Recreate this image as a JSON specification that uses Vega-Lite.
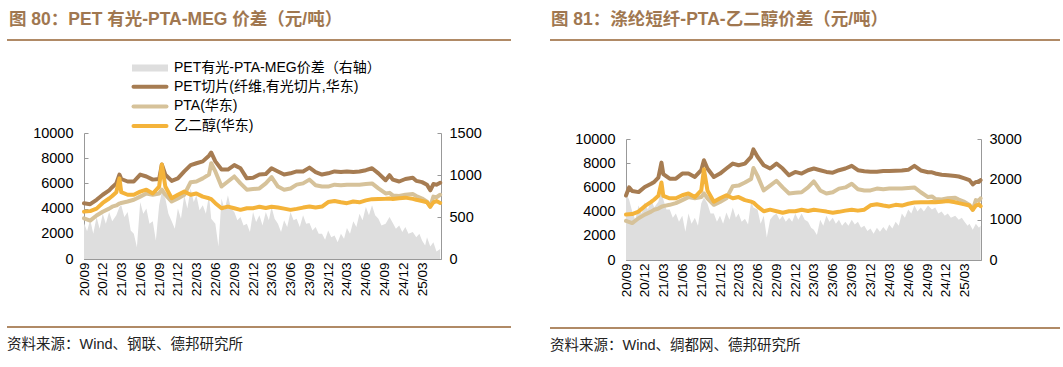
{
"$schema": "https://vega.github.io/schema/vega-lite/v6.json",
"background": "white",
"padding": {"left": 6, "top": 10, "right": 5, "bottom": 5},
"config": {"font": "Liberation Sans, Noto Sans CJK SC", "view": {"stroke": null}},
"spacing": 37,
"datasets": {
"L": [
{"d":"2020-09-01","main":4430,"pta":3230,"meg":3760,"sp":430},
{"d":"2020-09-16","sp":330},
{"d":"2020-10-01","main":4350,"pta":3050,"meg":3800,"sp":470},
{"d":"2020-10-16","sp":300},
{"d":"2020-11-01","main":4700,"pta":3450,"meg":4000,"sp":500},
{"d":"2020-11-16","sp":360},
{"d":"2020-12-01","main":5100,"pta":3750,"meg":4450,"sp":540},
{"d":"2020-12-16","sp":420},
{"d":"2021-01-01","main":5450,"pta":4000,"meg":4800,"sp":560},
{"d":"2021-01-16","main":5700,"pta":4150,"meg":5000,"sp":450},
{"d":"2021-02-05","main":6000,"pta":4250,"meg":5300,"sp":520},
{"d":"2021-02-20","main":6700,"pta":4400,"meg":6400,"sp":620},
{"d":"2021-03-01","main":6350,"pta":4450,"meg":5300,"sp":640},
{"d":"2021-03-16","sp":500},
{"d":"2021-04-01","main":6150,"pta":4560,"meg":5100,"sp":560},
{"d":"2021-04-16","sp":340},
{"d":"2021-05-01","main":6150,"pta":4700,"meg":5100,"sp":300},
{"d":"2021-05-16","sp":140},
{"d":"2021-06-01","main":6700,"pta":4950,"meg":5350,"sp":680},
{"d":"2021-06-16","sp":540},
{"d":"2021-07-01","main":6550,"pta":5200,"meg":5500,"sp":600},
{"d":"2021-07-16","sp":420},
{"d":"2021-08-01","main":6300,"pta":5100,"meg":5200,"sp":450},
{"d":"2021-08-16","sp":220},
{"d":"2021-09-01","main":6350,"pta":5200,"meg":5750,"sp":640},
{"d":"2021-09-14","main":7500,"pta":5500,"meg":7500,"sp":800},
{"d":"2021-10-01","main":6700,"pta":5100,"meg":5750,"sp":720},
{"d":"2021-10-16","sp":540},
{"d":"2021-11-01","main":6200,"pta":4560,"meg":4820,"sp":450},
{"d":"2021-11-16","sp":360},
{"d":"2021-12-01","main":6400,"pta":4800,"meg":5100,"sp":600},
{"d":"2021-12-16","sp":480},
{"d":"2022-01-01","main":6950,"pta":5100,"meg":5350,"sp":760},
{"d":"2022-01-16","sp":600},
{"d":"2022-02-01","main":7450,"pta":6100,"meg":5100,"sp":840},
{"d":"2022-02-16","sp":680},
{"d":"2022-03-01","main":7600,"pta":6150,"meg":5200,"sp":760},
{"d":"2022-03-16","sp":580},
{"d":"2022-04-01","main":7750,"pta":6400,"meg":4950,"sp":640},
{"d":"2022-04-16","sp":540},
{"d":"2022-05-01","main":8200,"pta":6700,"meg":4820,"sp":760},
{"d":"2022-05-12","main":8450,"pta":7600,"meg":4750,"sp":480},
{"d":"2022-06-01","main":7750,"pta":6950,"meg":4430,"sp":420},
{"d":"2022-06-16","sp":150},
{"d":"2022-07-01","main":7100,"pta":5750,"meg":4030,"sp":720},
{"d":"2022-07-16","sp":580},
{"d":"2022-08-01","main":7100,"pta":6150,"meg":4160,"sp":760},
{"d":"2022-08-16","sp":600},
{"d":"2022-09-01","main":7450,"pta":6550,"meg":4030,"sp":560},
{"d":"2022-09-16","sp":460},
{"d":"2022-10-01","main":7200,"pta":6000,"meg":3900,"sp":500},
{"d":"2022-10-16","sp":400},
{"d":"2022-11-01","main":6400,"pta":5500,"meg":4030,"sp":420},
{"d":"2022-11-16","sp":320},
{"d":"2022-12-01","main":6450,"pta":5550,"meg":4030,"sp":560},
{"d":"2022-12-16","sp":440},
{"d":"2023-01-01","main":6700,"pta":5600,"meg":4150,"sp":520},
{"d":"2023-01-16","sp":400},
{"d":"2023-02-01","main":6750,"pta":6000,"meg":4050,"sp":560},
{"d":"2023-02-16","sp":460},
{"d":"2023-03-01","main":7200,"pta":6500,"meg":4150,"sp":620},
{"d":"2023-03-16","sp":480},
{"d":"2023-04-01","main":6950,"pta":5750,"meg":4080,"sp":420},
{"d":"2023-04-16","sp":320},
{"d":"2023-05-01","main":6700,"pta":5500,"meg":4000,"sp":460},
{"d":"2023-05-16","sp":380},
{"d":"2023-06-01","main":6800,"pta":5600,"meg":3900,"sp":560},
{"d":"2023-06-16","sp":460},
{"d":"2023-07-01","main":6950,"pta":5900,"meg":3980,"sp":480},
{"d":"2023-07-16","sp":380},
{"d":"2023-08-01","main":6950,"pta":6000,"meg":4080,"sp":520},
{"d":"2023-08-16","sp":420},
{"d":"2023-09-01","main":7250,"pta":6300,"meg":4160,"sp":430},
{"d":"2023-09-16","sp":340},
{"d":"2023-10-01","main":6900,"pta":5850,"meg":4080,"sp":380},
{"d":"2023-10-16","sp":300},
{"d":"2023-11-01","main":6700,"pta":5750,"meg":4160,"sp":300},
{"d":"2023-11-16","sp":230},
{"d":"2023-12-01","main":6800,"pta":5750,"meg":4520,"sp":340},
{"d":"2023-12-16","sp":260},
{"d":"2024-01-01","main":6950,"pta":5900,"meg":4600,"sp":280},
{"d":"2024-01-16","sp":200},
{"d":"2024-02-01","main":6900,"pta":5850,"meg":4500,"sp":300},
{"d":"2024-02-16","sp":240},
{"d":"2024-03-01","main":6950,"pta":5900,"meg":4430,"sp":370},
{"d":"2024-03-16","sp":300},
{"d":"2024-04-01","main":6900,"pta":5900,"meg":4560,"sp":450},
{"d":"2024-04-16","sp":380},
{"d":"2024-05-01","main":6950,"pta":5900,"meg":4500,"sp":540},
{"d":"2024-05-16","sp":460},
{"d":"2024-06-01","main":7050,"pta":5950,"meg":4650,"sp":620},
{"d":"2024-06-16","sp":520},
{"d":"2024-07-01","main":7200,"pta":6000,"meg":4750,"sp":640},
{"d":"2024-07-16","sp":520},
{"d":"2024-08-01","main":6800,"pta":5600,"meg":4770,"sp":480},
{"d":"2024-08-16","sp":400},
{"d":"2024-09-05","main":6250,"pta":5200,"meg":4780,"sp":420},
{"d":"2024-09-24","main":6650,"pta":5250,"meg":4800,"sp":500},
{"d":"2024-10-10","main":6300,"pta":5050,"meg":4770,"sp":430},
{"d":"2024-10-25","sp":360},
{"d":"2024-11-10","main":6150,"pta":5000,"meg":4820,"sp":400},
{"d":"2024-11-25","sp":320},
{"d":"2024-12-10","main":6350,"pta":5100,"meg":4870,"sp":380},
{"d":"2024-12-25","sp":300},
{"d":"2025-01-15","main":6450,"pta":5150,"meg":4770,"sp":320},
{"d":"2025-02-01","main":6200,"pta":5000,"meg":4700,"sp":260},
{"d":"2025-02-16","sp":300},
{"d":"2025-03-01","main":6100,"pta":4800,"meg":4600,"sp":220},
{"d":"2025-03-16","sp":160},
{"d":"2025-03-25","main":5900,"pta":4550,"meg":4500,"sp":260},
{"d":"2025-04-10","main":5450,"pta":4150,"meg":4150,"sp":150},
{"d":"2025-04-25","main":5950,"pta":4950,"meg":4500,"sp":200},
{"d":"2025-05-10","main":5900,"pta":4900,"meg":4600,"sp":90},
{"d":"2025-05-28","main":6050,"pta":5100,"meg":4450,"sp":120}
],
"R": [
{"d":"2020-09-01","main":5330,"pta":3230,"meg":3760,"sp":1650},
{"d":"2020-09-16","main":6000,"sp":1500},
{"d":"2020-10-01","main":5700,"pta":3050,"meg":3800,"sp":1200},
{"d":"2020-10-16","sp":1000},
{"d":"2020-11-01","main":5610,"pta":3450,"meg":4000,"sp":1350},
{"d":"2020-11-16","sp":1150},
{"d":"2020-12-01","main":6030,"pta":3750,"meg":4450,"sp":1430},
{"d":"2020-12-16","sp":1250},
{"d":"2021-01-01","main":6300,"pta":4000,"meg":4800,"sp":1500},
{"d":"2021-01-16","main":6450,"pta":4150,"meg":5000,"sp":1300},
{"d":"2021-02-05","main":6800,"pta":4250,"meg":5300,"sp":1450},
{"d":"2021-02-20","main":8050,"pta":4400,"meg":6400,"sp":1770},
{"d":"2021-03-01","main":7100,"pta":4450,"meg":5300,"sp":1500},
{"d":"2021-03-16","sp":1250},
{"d":"2021-04-01","main":6720,"pta":4560,"meg":5100,"sp":1250},
{"d":"2021-04-16","sp":1050},
{"d":"2021-05-01","main":6720,"pta":4700,"meg":5100,"sp":1150},
{"d":"2021-05-16","sp":950},
{"d":"2021-06-01","main":7140,"pta":4950,"meg":5350,"sp":1100},
{"d":"2021-06-16","sp":700},
{"d":"2021-07-01","main":7140,"pta":5200,"meg":5500,"sp":1150},
{"d":"2021-07-16","sp":900},
{"d":"2021-08-01","main":6860,"pta":5100,"meg":5200,"sp":1050},
{"d":"2021-08-16","sp":850},
{"d":"2021-09-01","main":7420,"pta":5200,"meg":5750,"sp":1400},
{"d":"2021-09-14","main":8250,"pta":5500,"meg":7500,"sp":1550},
{"d":"2021-10-01","main":7560,"pta":5100,"meg":5750,"sp":1400},
{"d":"2021-10-16","sp":1150},
{"d":"2021-11-01","main":6860,"pta":4560,"meg":4820,"sp":1150},
{"d":"2021-11-16","sp":950},
{"d":"2021-12-01","main":7140,"pta":4800,"meg":5100,"sp":1100},
{"d":"2021-12-16","sp":900},
{"d":"2022-01-01","main":7560,"pta":5100,"meg":5350,"sp":1180},
{"d":"2022-01-16","sp":1000},
{"d":"2022-02-01","main":7970,"pta":6100,"meg":5100,"sp":1300},
{"d":"2022-02-16","sp":1050},
{"d":"2022-03-01","main":7830,"pta":6150,"meg":5200,"sp":1150},
{"d":"2022-03-16","sp":950},
{"d":"2022-04-01","main":7970,"pta":6400,"meg":4950,"sp":1020},
{"d":"2022-04-16","sp":880},
{"d":"2022-05-01","main":8530,"pta":6700,"meg":4820,"sp":1450},
{"d":"2022-05-12","main":9140,"pta":7600,"meg":4750,"sp":1300},
{"d":"2022-06-01","main":8530,"pta":6950,"meg":4430,"sp":1250},
{"d":"2022-06-16","sp":900},
{"d":"2022-07-01","main":7830,"pta":5750,"meg":4030,"sp":1100},
{"d":"2022-07-16","sp":560},
{"d":"2022-08-01","main":7560,"pta":6150,"meg":4160,"sp":1000},
{"d":"2022-08-16","sp":1100},
{"d":"2022-09-01","main":7970,"pta":6550,"meg":4030,"sp":1150},
{"d":"2022-09-16","sp":1000},
{"d":"2022-10-01","main":7560,"pta":6000,"meg":3900,"sp":1100},
{"d":"2022-10-16","sp":950},
{"d":"2022-11-01","main":7000,"pta":5500,"meg":4030,"sp":1050},
{"d":"2022-11-16","sp":950},
{"d":"2022-12-01","main":7280,"pta":5550,"meg":4030,"sp":1150},
{"d":"2022-12-16","sp":1000},
{"d":"2023-01-01","main":7140,"pta":5600,"meg":4150,"sp":1150},
{"d":"2023-01-16","sp":1000},
{"d":"2023-02-01","main":7420,"pta":6000,"meg":4050,"sp":950},
{"d":"2023-02-16","sp":800},
{"d":"2023-03-01","main":7560,"pta":6500,"meg":4150,"sp":750},
{"d":"2023-03-16","sp":620},
{"d":"2023-04-01","main":7420,"pta":5750,"meg":4080,"sp":1000},
{"d":"2023-04-16","sp":850},
{"d":"2023-05-01","main":7280,"pta":5500,"meg":4000,"sp":1100},
{"d":"2023-05-16","sp":950},
{"d":"2023-06-01","main":7220,"pta":5600,"meg":3900,"sp":1050},
{"d":"2023-06-16","sp":900},
{"d":"2023-07-01","main":7420,"pta":5900,"meg":3980,"sp":1000},
{"d":"2023-07-16","sp":850},
{"d":"2023-08-01","main":7560,"pta":6000,"meg":4080,"sp":950},
{"d":"2023-08-16","sp":850},
{"d":"2023-09-01","main":7780,"pta":6300,"meg":4160,"sp":1000},
{"d":"2023-09-16","sp":880},
{"d":"2023-10-01","main":7420,"pta":5850,"meg":4080,"sp":950},
{"d":"2023-10-16","sp":800},
{"d":"2023-11-01","main":7330,"pta":5750,"meg":4160,"sp":850},
{"d":"2023-11-16","sp":720},
{"d":"2023-12-01","main":7300,"pta":5750,"meg":4520,"sp":780},
{"d":"2023-12-16","sp":650},
{"d":"2024-01-01","main":7300,"pta":5900,"meg":4600,"sp":800},
{"d":"2024-01-16","sp":700},
{"d":"2024-02-01","main":7350,"pta":5850,"meg":4500,"sp":820},
{"d":"2024-02-16","sp":720},
{"d":"2024-03-01","main":7350,"pta":5900,"meg":4430,"sp":880},
{"d":"2024-03-16","sp":780},
{"d":"2024-04-01","main":7380,"pta":5900,"meg":4560,"sp":950},
{"d":"2024-04-16","sp":850},
{"d":"2024-05-01","main":7400,"pta":5900,"meg":4500,"sp":1150},
{"d":"2024-05-16","sp":1050},
{"d":"2024-06-01","main":7450,"pta":5950,"meg":4650,"sp":1250},
{"d":"2024-06-16","sp":1150},
{"d":"2024-07-01","main":7780,"pta":6000,"meg":4750,"sp":1350},
{"d":"2024-07-16","sp":1200},
{"d":"2024-08-01","main":7400,"pta":5600,"meg":4770,"sp":1300},
{"d":"2024-08-16","sp":1200},
{"d":"2024-09-05","main":7250,"pta":5200,"meg":4780,"sp":1350},
{"d":"2024-09-24","main":7250,"pta":5250,"meg":4800,"sp":1250},
{"d":"2024-10-10","main":7150,"pta":5050,"meg":4770,"sp":1300},
{"d":"2024-10-25","sp":1150},
{"d":"2024-11-10","main":7050,"pta":5000,"meg":4820,"sp":1200},
{"d":"2024-11-25","sp":1100},
{"d":"2024-12-10","main":7000,"pta":5100,"meg":4870,"sp":1150},
{"d":"2024-12-25","sp":1050},
{"d":"2025-01-15","main":6950,"pta":5150,"meg":4770,"sp":1100},
{"d":"2025-02-01","main":6900,"pta":5000,"meg":4700,"sp":1000},
{"d":"2025-02-16","sp":1050},
{"d":"2025-03-01","main":6750,"pta":4800,"meg":4600,"sp":950},
{"d":"2025-03-16","sp":850},
{"d":"2025-03-25","main":6600,"pta":4550,"meg":4500,"sp":900},
{"d":"2025-04-10","main":6250,"pta":4150,"meg":4150,"sp":750},
{"d":"2025-04-25","main":6450,"pta":4950,"meg":4500,"sp":900},
{"d":"2025-05-10","main":6450,"pta":4900,"meg":4600,"sp":800},
{"d":"2025-05-18","main":6600,"pta":5100,"meg":4450,"sp":850}
]
},
"hconcat": [
{
"columns": 1, "spacing": 21,
"concat": [
{
"data": {"values": [{"k": 0}]},
"width": 427, "height": 64,
"title": {"text": "图 80：PET 有光-PTA-MEG 价差（元/吨）", "anchor": "start", "frame": "group", "dx": -75, "fontSize": 17.5, "fontWeight": "bold", "color": "#A07750", "offset": 11},
"mark": {"type": "rule", "color": "#B08A66", "strokeWidth": 2},
"encoding": {
"x": {"datum": 0, "type": "quantitative", "scale": {"domain": [0, 1], "range": [-77, 427]}, "axis": null},
"x2": {"datum": 1},
"y": {"datum": 1, "type": "quantitative", "scale": {"domain": [0, 1]}, "axis": null}}
},
{
"data": {"name": "L"},
"width": 357, "height": 126,
"layer": [
{
"mark": {"type": "area", "opacity": 1},
"encoding": {
"x": {"field": "d", "type": "temporal", "scale": {"type": "utc", "domain": [{"year": 2020, "month": 9, "date": 1, "utc": true}, {"year": 2025, "month": 6, "date": 1, "utc": true}]},
"axis": {"title": null, "grid": false, "format": "%y/%m", "labelAngle": -90, "labelFontSize": 13.5, "labelColor": "#000", "tickSize": -4, "labelPadding": 7, "domainColor": "#999", "tickColor": "#999", "labelOverlap": false, "labelBound": false, "labelFlush": false,
"values": [{"year":2020,"month":9,"date":1,"utc":true},{"year":2020,"month":12,"date":1,"utc":true},{"year":2021,"month":3,"date":1,"utc":true},{"year":2021,"month":6,"date":1,"utc":true},{"year":2021,"month":9,"date":1,"utc":true},{"year":2021,"month":12,"date":1,"utc":true},{"year":2022,"month":3,"date":1,"utc":true},{"year":2022,"month":6,"date":1,"utc":true},{"year":2022,"month":9,"date":1,"utc":true},{"year":2022,"month":12,"date":1,"utc":true},{"year":2023,"month":3,"date":1,"utc":true},{"year":2023,"month":6,"date":1,"utc":true},{"year":2023,"month":9,"date":1,"utc":true},{"year":2023,"month":12,"date":1,"utc":true},{"year":2024,"month":3,"date":1,"utc":true},{"year":2024,"month":6,"date":1,"utc":true},{"year":2024,"month":9,"date":1,"utc":true},{"year":2024,"month":12,"date":1,"utc":true},{"year":2025,"month":3,"date":1,"utc":true}]}},
"y": {"field": "sp", "type": "quantitative", "scale": {"domain": [0, 1500], "nice": false},
"axis": {"orient": "right", "title": null, "grid": false, "values": [0, 500, 1000, 1500], "format": "d", "labelFontSize": 14.5, "labelColor": "#000", "tickSize": -4, "labelPadding": 12, "domainColor": "#999", "tickColor": "#999"}},
"color": {"datum": "sp", "type": "nominal",
"scale": {"domain": ["sp", "main", "pta", "meg"], "range": ["#DEDEDE", "#A67C52", "#D6C29A", "#F4B33A"]},
"legend": {"orient": "none", "legendX": 59, "legendY": 21, "title": null, "padding": 0, "symbolSize": 100, "labelFontSize": 14, "labelColor": "#000", "rowPadding": 3.7, "labelOffset": 17, "labelLimit": 0,
"labelExpr": "{'sp':'PET有光-PTA-MEG价差（右轴）','main':'PET切片(纤维,有光切片,华东)','pta':'PTA(华东)','meg':'乙二醇(华东)'}[datum.value]",
"encode": {"symbols": {"update": {
"shape": {"signal": "datum.value === 'sp' ? 'M-3.6,-0.7H3.6V0.7H-3.6Z' : 'M-3.3,0H3.3'"},
"fill": {"signal": "datum.value === 'sp' ? '#DEDEDE' : 'transparent'"},
"stroke": {"signal": "datum.value === 'sp' ? 'transparent' : (datum.value === 'main' ? '#A67C52' : (datum.value === 'pta' ? '#D6C29A' : '#F4B33A'))"},
"strokeWidth": {"signal": "datum.value === 'sp' ? 0 : 4"},
"strokeCap": {"value": "round"},
"opacity": {"value": 1}}}}}}
}
},
{
"transform": [{"fold": ["main", "pta", "meg"], "as": ["key", "val"]}, {"filter": "isValid(datum.val)"}],
"mark": {"type": "line", "strokeWidth": 4, "strokeJoin": "round", "strokeCap": "round"},
"encoding": {
"x": {"field": "d", "type": "temporal", "scale": {"type": "utc", "domain": [{"year": 2020, "month": 9, "date": 1, "utc": true}, {"year": 2025, "month": 6, "date": 1, "utc": true}]},
"axis": {"title": null, "grid": false, "format": "%y/%m", "labelAngle": -90, "labelFontSize": 13.5, "labelColor": "#000", "tickSize": -4, "labelPadding": 7, "domainColor": "#999", "tickColor": "#999", "labelOverlap": false, "labelBound": false, "labelFlush": false,
"values": [{"year":2020,"month":9,"date":1,"utc":true},{"year":2020,"month":12,"date":1,"utc":true},{"year":2021,"month":3,"date":1,"utc":true},{"year":2021,"month":6,"date":1,"utc":true},{"year":2021,"month":9,"date":1,"utc":true},{"year":2021,"month":12,"date":1,"utc":true},{"year":2022,"month":3,"date":1,"utc":true},{"year":2022,"month":6,"date":1,"utc":true},{"year":2022,"month":9,"date":1,"utc":true},{"year":2022,"month":12,"date":1,"utc":true},{"year":2023,"month":3,"date":1,"utc":true},{"year":2023,"month":6,"date":1,"utc":true},{"year":2023,"month":9,"date":1,"utc":true},{"year":2023,"month":12,"date":1,"utc":true},{"year":2024,"month":3,"date":1,"utc":true},{"year":2024,"month":6,"date":1,"utc":true},{"year":2024,"month":9,"date":1,"utc":true},{"year":2024,"month":12,"date":1,"utc":true},{"year":2025,"month":3,"date":1,"utc":true}]}},
"y": {"field": "val", "type": "quantitative", "scale": {"domain": [0, 10000], "nice": false},
"axis": {"orient": "left", "title": null, "grid": false, "values": [0, 2000, 4000, 6000, 8000, 10000], "format": "d", "labelFontSize": 14.5, "labelColor": "#000", "tickSize": -4, "labelPadding": 15, "domainColor": "#999", "tickColor": "#999", "minExtent": 77}},
"color": {"field": "key", "type": "nominal", "scale": {"domain": ["sp", "main", "pta", "meg"], "range": ["#DEDEDE", "#A67C52", "#D6C29A", "#F4B33A"]},
"legend": {"orient": "none", "legendX": 59, "legendY": 21, "title": null, "padding": 0, "symbolSize": 100, "labelFontSize": 14, "labelColor": "#000", "rowPadding": 3.7, "labelOffset": 17, "labelLimit": 0,
"labelExpr": "{'sp':'PET有光-PTA-MEG价差（右轴）','main':'PET切片(纤维,有光切片,华东)','pta':'PTA(华东)','meg':'乙二醇(华东)'}[datum.value]",
"encode": {"symbols": {"update": {
"shape": {"signal": "datum.value === 'sp' ? 'M-3.6,-0.7H3.6V0.7H-3.6Z' : 'M-3.3,0H3.3'"},
"fill": {"signal": "datum.value === 'sp' ? '#DEDEDE' : 'transparent'"},
"stroke": {"signal": "datum.value === 'sp' ? 'transparent' : (datum.value === 'main' ? '#A67C52' : (datum.value === 'pta' ? '#D6C29A' : '#F4B33A'))"},
"strokeWidth": {"signal": "datum.value === 'sp' ? 0 : 4"},
"strokeCap": {"value": "round"},
"opacity": {"value": 1}}}}}}
}
}
],
"resolve": {"scale": {"y": "independent"}}
},
{
"data": {"values": [{"k": 0}]},
"width": 427, "height": 10,
"title": {"text": "资料来源：Wind、钢联、德邦研究所", "orient": "bottom", "anchor": "start", "frame": "group", "dx": -77, "fontSize": 14.5, "fontWeight": "normal", "color": "#222", "offset": 10},
"mark": {"type": "rule", "color": "#B08A66", "strokeWidth": 2},
"encoding": {
"x": {"datum": 0, "type": "quantitative", "scale": {"domain": [0, 1], "range": [-77, 427]}, "axis": null},
"x2": {"datum": 1},
"y": {"datum": 0, "type": "quantitative", "scale": {"domain": [0, 1]}, "axis": null}}
}
]
},
{
"columns": 1, "spacing": 21,
"concat": [
{
"data": {"values": [{"k": 0}]},
"width": 434, "height": 70,
"title": {"text": "图 81：涤纶短纤-PTA-乙二醇价差（元/吨）", "anchor": "start", "frame": "group", "dx": -75, "fontSize": 17.5, "fontWeight": "bold", "color": "#A07750", "offset": 11},
"mark": {"type": "rule", "color": "#B08A66", "strokeWidth": 2},
"encoding": {
"x": {"datum": 0, "type": "quantitative", "scale": {"domain": [0, 1], "range": [-76, 434]}, "axis": null},
"x2": {"datum": 1},
"y": {"datum": 1, "type": "quantitative", "scale": {"domain": [0, 1]}, "axis": null}}
},
{
"data": {"name": "R"},
"width": 355, "height": 121,
"layer": [
{
"mark": {"type": "area", "opacity": 1},
"encoding": {
"x": {"field": "d", "type": "temporal", "scale": {"type": "utc", "domain": [{"year": 2020, "month": 9, "date": 1, "utc": true}, {"year": 2025, "month": 5, "date": 20, "utc": true}]},
"axis": {"title": null, "grid": false, "format": "%y/%m", "labelAngle": -90, "labelFontSize": 13.5, "labelColor": "#000", "tickSize": -4, "labelPadding": 7, "domainColor": "#999", "tickColor": "#999", "labelOverlap": false, "labelBound": false, "labelFlush": false,
"values": [{"year":2020,"month":9,"date":1,"utc":true},{"year":2020,"month":12,"date":1,"utc":true},{"year":2021,"month":3,"date":1,"utc":true},{"year":2021,"month":6,"date":1,"utc":true},{"year":2021,"month":9,"date":1,"utc":true},{"year":2021,"month":12,"date":1,"utc":true},{"year":2022,"month":3,"date":1,"utc":true},{"year":2022,"month":6,"date":1,"utc":true},{"year":2022,"month":9,"date":1,"utc":true},{"year":2022,"month":12,"date":1,"utc":true},{"year":2023,"month":3,"date":1,"utc":true},{"year":2023,"month":6,"date":1,"utc":true},{"year":2023,"month":9,"date":1,"utc":true},{"year":2023,"month":12,"date":1,"utc":true},{"year":2024,"month":3,"date":1,"utc":true},{"year":2024,"month":6,"date":1,"utc":true},{"year":2024,"month":9,"date":1,"utc":true},{"year":2024,"month":12,"date":1,"utc":true},{"year":2025,"month":3,"date":1,"utc":true}]}},
"y": {"field": "sp", "type": "quantitative", "scale": {"domain": [0, 3000], "nice": false},
"axis": {"orient": "right", "title": null, "grid": false, "values": [0, 1000, 2000, 3000], "format": "d", "labelFontSize": 14.5, "labelColor": "#000", "tickSize": -4, "labelPadding": 12, "domainColor": "#999", "tickColor": "#999"}},
"color": {"datum": "sp", "type": "nominal",
"scale": {"domain": ["sp", "main", "pta", "meg"], "range": ["#DEDEDE", "#A67C52", "#D6C29A", "#F4B33A"]},
"legend": {"orient": "none", "legendX": 63, "legendY": 21, "title": null, "padding": 0, "symbolSize": 100, "labelFontSize": 14, "labelColor": "#000", "rowPadding": 3.7, "labelOffset": 17, "labelLimit": 0,
"labelExpr": "{'sp':'涤纶短纤-PTA-乙二醇价差（右轴）','main':'涤纶短纤','pta':'PTA(华东)','meg':'乙二醇(华东)'}[datum.value]",
"encode": {"symbols": {"update": {
"shape": {"signal": "datum.value === 'sp' ? 'M-3.6,-0.7H3.6V0.7H-3.6Z' : 'M-3.3,0H3.3'"},
"fill": {"signal": "datum.value === 'sp' ? '#DEDEDE' : 'transparent'"},
"stroke": {"signal": "datum.value === 'sp' ? 'transparent' : (datum.value === 'main' ? '#A67C52' : (datum.value === 'pta' ? '#D6C29A' : '#F4B33A'))"},
"strokeWidth": {"signal": "datum.value === 'sp' ? 0 : 4"},
"strokeCap": {"value": "round"},
"opacity": {"value": 1}}}}}}
}
},
{
"transform": [{"fold": ["main", "pta", "meg"], "as": ["key", "val"]}, {"filter": "isValid(datum.val)"}],
"mark": {"type": "line", "strokeWidth": 4, "strokeJoin": "round", "strokeCap": "round"},
"encoding": {
"x": {"field": "d", "type": "temporal", "scale": {"type": "utc", "domain": [{"year": 2020, "month": 9, "date": 1, "utc": true}, {"year": 2025, "month": 5, "date": 20, "utc": true}]},
"axis": {"title": null, "grid": false, "format": "%y/%m", "labelAngle": -90, "labelFontSize": 13.5, "labelColor": "#000", "tickSize": -4, "labelPadding": 7, "domainColor": "#999", "tickColor": "#999", "labelOverlap": false, "labelBound": false, "labelFlush": false,
"values": [{"year":2020,"month":9,"date":1,"utc":true},{"year":2020,"month":12,"date":1,"utc":true},{"year":2021,"month":3,"date":1,"utc":true},{"year":2021,"month":6,"date":1,"utc":true},{"year":2021,"month":9,"date":1,"utc":true},{"year":2021,"month":12,"date":1,"utc":true},{"year":2022,"month":3,"date":1,"utc":true},{"year":2022,"month":6,"date":1,"utc":true},{"year":2022,"month":9,"date":1,"utc":true},{"year":2022,"month":12,"date":1,"utc":true},{"year":2023,"month":3,"date":1,"utc":true},{"year":2023,"month":6,"date":1,"utc":true},{"year":2023,"month":9,"date":1,"utc":true},{"year":2023,"month":12,"date":1,"utc":true},{"year":2024,"month":3,"date":1,"utc":true},{"year":2024,"month":6,"date":1,"utc":true},{"year":2024,"month":9,"date":1,"utc":true},{"year":2024,"month":12,"date":1,"utc":true},{"year":2025,"month":3,"date":1,"utc":true}]}},
"y": {"field": "val", "type": "quantitative", "scale": {"domain": [0, 10000], "nice": false},
"axis": {"orient": "left", "title": null, "grid": false, "values": [0, 2000, 4000, 6000, 8000, 10000], "format": "d", "labelFontSize": 14.5, "labelColor": "#000", "tickSize": -4, "labelPadding": 15, "domainColor": "#999", "tickColor": "#999", "minExtent": 76}},
"color": {"field": "key", "type": "nominal", "scale": {"domain": ["sp", "main", "pta", "meg"], "range": ["#DEDEDE", "#A67C52", "#D6C29A", "#F4B33A"]},
"legend": {"orient": "none", "legendX": 63, "legendY": 21, "title": null, "padding": 0, "symbolSize": 100, "labelFontSize": 14, "labelColor": "#000", "rowPadding": 3.7, "labelOffset": 17, "labelLimit": 0,
"labelExpr": "{'sp':'涤纶短纤-PTA-乙二醇价差（右轴）','main':'涤纶短纤','pta':'PTA(华东)','meg':'乙二醇(华东)'}[datum.value]",
"encode": {"symbols": {"update": {
"shape": {"signal": "datum.value === 'sp' ? 'M-3.6,-0.7H3.6V0.7H-3.6Z' : 'M-3.3,0H3.3'"},
"fill": {"signal": "datum.value === 'sp' ? '#DEDEDE' : 'transparent'"},
"stroke": {"signal": "datum.value === 'sp' ? 'transparent' : (datum.value === 'main' ? '#A67C52' : (datum.value === 'pta' ? '#D6C29A' : '#F4B33A'))"},
"strokeWidth": {"signal": "datum.value === 'sp' ? 0 : 4"},
"strokeCap": {"value": "round"},
"opacity": {"value": 1}}}}}}
}
}
],
"resolve": {"scale": {"y": "independent"}}
},
{
"data": {"values": [{"k": 0}]},
"width": 434, "height": 10,
"title": {"text": "资料来源：Wind、绸都网、德邦研究所", "orient": "bottom", "anchor": "start", "frame": "group", "dx": -76, "fontSize": 14.5, "fontWeight": "normal", "color": "#222", "offset": 10},
"mark": {"type": "rule", "color": "#B08A66", "strokeWidth": 2},
"encoding": {
"x": {"datum": 0, "type": "quantitative", "scale": {"domain": [0, 1], "range": [-76, 434]}, "axis": null},
"x2": {"datum": 1},
"y": {"datum": 0, "type": "quantitative", "scale": {"domain": [0, 1]}, "axis": null}}
}
]
}
]
}
